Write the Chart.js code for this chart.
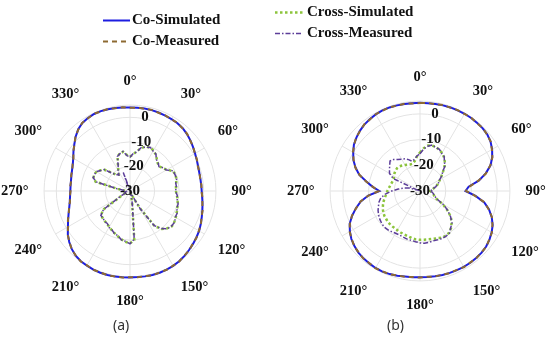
<!DOCTYPE html>
<html>
<head>
<meta charset="utf-8">
<script src="https://cdn.jsdelivr.net/npm/chart.js@4.4.0/dist/chart.umd.min.js"></script>
<style>
  html, body { margin: 0; padding: 0; background: #fff; }
  body { width: 550px; height: 341px; position: relative; overflow: hidden; }
  .box { position: absolute; top: 0; height: 341px; width: 300px; }
  #boxA { left: -20px; }
  #boxB { left: 258px; }
  .cap { position: absolute; top: 315px; font: 14px "Noto Sans", sans-serif; color: #333; }
</style>
</head>
<body>
<div class="box" id="boxA"><canvas id="chartA"></canvas></div>
<div class="box" id="boxB"><canvas id="chartB"></canvas></div>
<div class="cap" style="left:113px">(a)</div>
<div class="cap" style="left:387px">(b)</div>
<script>
// angles in degrees, 5 degree steps, clockwise from top
var angles = [0,5,10,15,20,25,30,35,40,45,50,55,60,65,70,75,80,85,90,95,100,105,110,115,
  120,125,130,135,140,145,150,155,160,165,170,175,180,185,190,195,200,205,210,215,220,225,230,235,
  240,245,250,255,260,265,270,275,280,285,290,295,300,305,310,315,320,325,330,335,340,345,350,355];

var tickValues = [-30, -20, -10, 0, 5];

// (a) radiation pattern, dB
var coSimA = [4.0,4.0,4.1,4.1,4.0,3.9,3.8,3.7,3.4,2.8,2.1,1.3,
  0.6,0.0,-0.5,-0.8,-0.9,-0.9,-0.8,-0.5,0.0,0.5,1.1,1.8,
  2.5,3.0,3.5,4.0,4.5,4.9,5.2,5.3,5.4,5.4,5.3,5.2,
  5.2,5.3,5.4,5.4,5.4,5.3,5.1,4.9,4.4,3.5,2.3,0.9,
  -0.8,-2.2,-3.4,-4.4,-5.1,-5.5,-5.7,-5.7,-5.6,-5.3,-4.9,-4.3,
  -3.3,-1.9,-0.4,1.3,2.8,3.8,4.3,4.6,4.6,4.5,4.3,4.1];
var coMeasA = [3.9,4.1,4.0,4.2,3.9,4.0,3.7,3.8,3.3,2.9,2.0,1.4,
  0.5,0.1,-0.6,-0.7,-1.0,-0.8,-0.9,-0.4,-0.1,0.6,1.0,1.9,
  2.4,3.1,3.4,4.1,4.4,5.0,5.1,5.4,5.3,5.5,5.2,5.3,
  5.1,5.4,5.3,5.5,5.3,5.4,5.0,5.0,4.3,3.6,2.2,1.0,
  -0.9,-2.1,-3.5,-4.3,-5.2,-5.4,-5.8,-5.6,-5.7,-5.2,-5.0,-4.2,
  -3.4,-1.8,-0.5,1.4,2.7,3.9,4.2,4.7,4.5,4.6,4.2,4.2];
var crossSimA = [-16.0,-15.0,-13.5,-11.8,-10.8,-10.6,-10.9,-11.8,-13.0,-14.0,-14.4,-13.8,
  -12.6,-10.8,-10.3,-10.5,-10.9,-11.2,-11.3,-10.9,-10.3,-9.9,-9.5,-9.0,
  -8.5,-8.0,-7.7,-8.5,-9.8,-12.5,-22.0,-27.5,-29.0,-28.0,-25.0,-10.0,
  -8.7,-9.2,-10.0,-10.9,-11.7,-12.4,-13.1,-13.7,-14.0,-14.3,-14.7,-16.5,
  -25.5,-27.5,-28.0,-28.2,-28.3,-28.2,-28.0,-27.5,-25.0,-15.5,-14.2,-13.9,
  -14.3,-15.3,-16.6,-19.5,-21.5,-21.9,-20.5,-18.4,-15.2,-14.0,-13.8,-15.3];
var crossMeasA = [-16.3,-14.7,-13.8,-11.5,-11.0,-10.4,-11.2,-11.6,-13.3,-13.8,-14.6,-13.5,
  -12.9,-10.6,-10.5,-10.3,-11.1,-11.0,-11.5,-10.7,-10.5,-9.7,-9.7,-8.8,
  -8.7,-7.8,-7.9,-8.3,-10.0,-12.8,-21.5,-28.0,-38.0,-28.5,-24.5,-10.3,
  -8.5,-9.4,-9.8,-11.1,-11.5,-12.6,-12.9,-13.9,-13.8,-14.5,-14.5,-16.8,
  -25.0,-27.8,-27.7,-28.4,-28.1,-28.4,-27.8,-27.7,-24.6,-15.8,-14.0,-14.1,
  -14.1,-15.5,-16.4,-19.8,-21.2,-22.1,-20.3,-18.6,-15.0,-14.2,-13.6,-15.5];

// (b) radiation pattern, dB
var coSimB = [4.3,4.3,4.4,4.5,4.6,4.6,4.7,4.7,4.6,4.5,4.2,3.5,
  2.4,1.0,-0.8,-3.5,-6.8,-11.0,-12.3,-8.3,-4.6,-2.2,-0.3,1.2,
  2.2,3.0,3.6,3.9,4.0,4.1,4.1,4.0,3.9,3.8,3.7,3.6,
  3.6,3.7,3.8,4.1,4.4,4.6,4.6,4.4,4.2,3.9,3.3,2.6,
  1.5,0.2,-1.9,-4.2,-6.6,-9.8,-14.2,-11.5,-8.8,-5.5,-3.3,-1.4,
  0.0,1.4,2.3,3.1,3.7,4.1,4.4,4.6,4.6,4.5,4.4,4.3];
var coMeasB = [4.2,4.4,4.3,4.6,4.5,4.7,4.6,4.8,4.5,4.6,4.1,3.6,
  2.3,1.1,-0.9,-3.4,-6.9,-10.8,-12.1,-8.5,-4.5,-2.3,-0.2,1.1,
  2.3,2.9,3.7,3.8,4.1,4.0,4.2,3.9,4.0,3.7,3.8,3.5,
  3.7,3.6,3.9,4.0,4.5,4.5,4.7,4.3,4.3,3.8,3.4,2.5,
  1.6,0.1,-1.8,-4.3,-6.5,-9.9,-14.0,-11.6,-8.7,-5.6,-3.2,-1.5,
  0.1,1.3,2.4,3.0,3.8,4.0,4.5,4.5,4.7,4.4,4.5,4.2];
var crossSimB = [-15.0,-13.3,-12.0,-11.7,-11.8,-12.3,-12.9,-13.8,-15.0,-16.5,-18.3,-19.8,
  -21.0,-22.0,-22.8,-23.8,-24.7,-25.5,-26.0,-25.5,-25.0,-24.5,-24.0,-23.0,
  -19.8,-17.0,-14.3,-12.6,-11.2,-10.2,-9.9,-10.0,-10.4,-10.7,-10.9,-11.0,
  -11.0,-11.1,-11.4,-11.8,-12.0,-12.2,-12.4,-12.5,-12.5,-12.6,-12.9,-13.1,
  -13.5,-14.0,-14.7,-15.4,-16.2,-16.8,-17.3,-17.8,-18.2,-18.5,-18.7,-18.7,
  -18.4,-17.9,-17.6,-17.4,-17.5,-17.9,-18.3,-18.7,-19.0,-19.0,-18.2,-16.5];
var crossMeasB = [-15.5,-13.6,-12.3,-11.5,-12.0,-12.1,-13.1,-13.6,-15.2,-16.3,-18.5,-19.6,
  -21.2,-21.8,-23.0,-23.6,-24.9,-25.3,-26.2,-25.3,-24.8,-24.4,-23.8,-22.8,
  -19.5,-16.8,-14.5,-12.4,-11.4,-10.0,-9.7,-9.6,-9.8,-9.9,-9.7,-9.6,
  -9.8,-10.2,-10.5,-10.6,-10.9,-11.1,-11.0,-10.7,-10.4,-10.2,-10.5,-10.9,
  -11.4,-12.0,-12.8,-13.5,-14.5,-16.5,-19.0,-21.5,-23.5,-25.5,-28.5,-18.5,
  -16.3,-15.5,-14.6,-13.5,-14.0,-15.0,-15.7,-16.2,-17.0,-18.0,-17.5,-16.3];

var serifFamily = '"Liberation Serif", "Times New Roman", serif';
var labelFont = { family: serifFamily, weight: 'bold', size: 14.5 };
var tickFont = { family: serifFamily, weight: 'bold', size: 15 };
var gridColor = '#e3e3e3';
// shift r tick labels a little to the right, like the original plot
var tickShift = { '-30': '', '-20': '\u2002', '-10': '\u2002\u2002\u2002', '0': '\u2002\u2002\u2002\u2002' };

// legend drawn at a free position, using each dataset's own line style
var sideLegend = {
  id: 'sideLegend',
  afterDraw: function (chart, args, opts) {
    var ctx = chart.ctx;
    ctx.save();
    ctx.font = 'bold 15px ' + serifFamily;
    ctx.textBaseline = 'middle';
    opts.items.forEach(function (idx, n) {
      var ds = chart.data.datasets[idx];
      var y = opts.y + n * opts.dy;
      ctx.strokeStyle = ds.borderColor;
      ctx.lineWidth = ds.borderWidth;
      ctx.setLineDash(ds.borderDash || []);
      ctx.beginPath();
      ctx.moveTo(opts.x, y);
      ctx.lineTo(opts.x + opts.len, y);
      ctx.stroke();
      ctx.setLineDash([]);
      ctx.fillStyle = '#111';
      ctx.fillText(ds.label, opts.x + opts.gap, y);
    });
    ctx.restore();
  }
};

function makeDatasets(coSim, coMeas, crossSim, crossMeas) {
  return [
    { label: 'Co-Simulated', data: coSim, borderColor: '#1d1de0', borderWidth: 2, order: 4 },
    { label: 'Co-Measured', data: coMeas, borderColor: '#8d6a32', borderWidth: 2, borderDash: [5, 4], order: 3 },
    { label: 'Cross-Simulated', data: crossSim, borderColor: '#8cc43c', borderWidth: 2.5, borderDash: [2.5, 2.5], order: 2 },
    { label: 'Cross-Measured', data: crossMeas, borderColor: '#5c3d99', borderWidth: 1.5, borderDash: [5, 2, 1.5, 2], order: 1 }
  ];
}

function makeChart(id, datasets, padding, legendOpts) {
  return new Chart(document.getElementById(id), {
    type: 'radar',
    data: { labels: angles, datasets: datasets },
    options: {
      responsive: true,
      maintainAspectRatio: false,
      animation: false,
      layout: { padding: padding },
      elements: { point: { radius: 0 }, line: { fill: false, tension: 0 } },
      plugins: { legend: { display: false }, tooltip: { enabled: false }, sideLegend: legendOpts },
      scales: {
        r: {
          min: -30,
          max: 5,
          afterBuildTicks: function (s) { s.ticks = tickValues.map(function (v) { return { value: v }; }); },
          grid: { circular: true, color: gridColor },
          angleLines: { color: gridColor, lineWidth: function (c) { return c.index % 6 === 0 ? 1 : 0; } },
          pointLabels: {
            font: labelFont, color: '#111', padding: 8,
            callback: function (label, i) { return i % 6 === 0 ? label + '°' : []; }
          },
          ticks: {
            z: 1, showLabelBackdrop: false, backdropPadding: 0, color: '#111', font: tickFont,
            callback: function (v) { return v === 5 ? '' : tickShift[String(v)] + v; }
          }
        }
      }
    },
    plugins: [sideLegend]
  });
}

makeChart('chartA', makeDatasets(coSimA, coMeasA, crossSimA, crossMeasA),
  { left: 18, right: 24, top: 62, bottom: 20 },
  { items: [0, 1], x: 123, y: 20.5, dy: 21, len: 27, gap: 29 });

makeChart('chartB', makeDatasets(coSimB, coMeasB, crossSimB, crossMeasB),
  { left: 26, right: 8, top: 58, bottom: 16 },
  { items: [2, 3], x: 17, y: 12.5, dy: 21, len: 28, gap: 32 });
</script>
</body>
</html>
